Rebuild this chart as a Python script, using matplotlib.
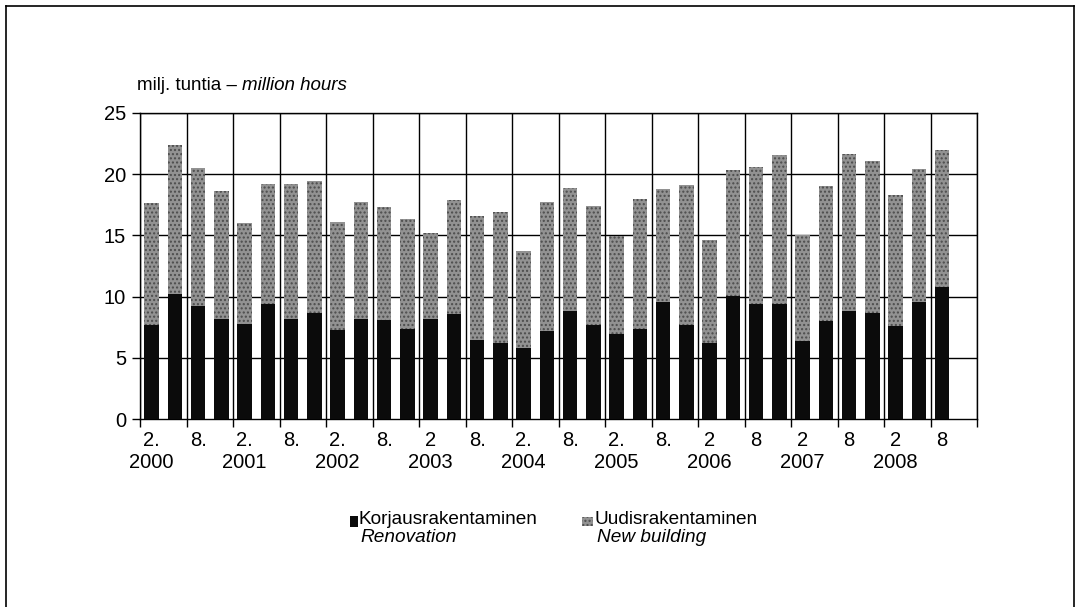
import matplotlib
matplotlib.use("Agg")
import matplotlib.pyplot as plt
from matplotlib.lines import Line2D
from matplotlib.patches import Rectangle
import numpy as np

plt.rcParams['font.family'] = ['Liberation Sans', 'DejaVu Sans']
plt.rcParams['hatch.linewidth'] = 1.0

renovation = [7.7, 10.2, 9.2, 8.15, 7.8, 9.4, 8.2, 8.7, 7.3, 8.15, 8.1, 7.4,
              8.2, 8.55, 6.5, 6.25, 5.8, 7.2, 8.8, 7.7, 6.95, 7.4, 9.6, 7.7,
              6.25, 10.05, 9.4, 9.4, 6.4, 8.05, 8.85, 8.7, 7.6, 9.55, 10.75]
totals = [17.6, 22.4, 20.5, 18.6, 16.0, 19.2, 19.2, 19.45, 16.1, 17.75, 17.3, 16.3,
          15.2, 17.9, 16.6, 16.9, 13.7, 17.75, 18.9, 17.4, 14.95, 18.0, 18.8, 19.1,
          14.6, 20.3, 20.6, 21.55, 15.0, 19.0, 21.6, 21.1, 18.25, 20.4, 21.95]
new_building = [round(t - r, 2) for t, r in zip(totals, renovation)]

month_labels = ["2.", "8.", "2.", "8.", "2.", "8.", "2", "8.", "2.", "8.", "2.", "8.",
                "2", "8", "2", "8", "2", "8"]
years = ["2000", "2001", "2002", "2003", "2004", "2005", "2006", "2007", "2008"]
yticks = [0, 5, 10, 15, 20, 25]

W, H = 1077, 607
fig = plt.figure(figsize=(W / 100, H / 100), dpi=100)
ax = fig.add_axes([140 / W, 1 - 419.3 / H, (977 - 140) / W, (419.3 - 112.7) / H])

x = np.arange(len(renovation))
black = '#0b0b0b'
gray = '#929292'
hatch_col = '#4c4c4c'
ax.bar(x, renovation, width=0.63, color=black, zorder=3)
ax.bar(x, new_building, bottom=renovation, width=0.63, facecolor=gray,
       edgecolor=hatch_col, linewidth=0, hatch='....', zorder=3)

ax.set_xlim(-0.5, 35.5)
ax.set_ylim(0, 25)

# gridlines
for k in range(19):
    ax.axvline(-0.5 + 2 * k, color='black', lw=1.0, zorder=1)
for yv in yticks[1:]:
    ax.axhline(yv, color='black', lw=1.0, zorder=1)

for s in ax.spines.values():
    s.set_color('black')
    s.set_linewidth(1.0)

ax.set_yticks(yticks)
ax.set_yticklabels([str(v) for v in yticks], fontsize=14.5)
ax.set_xticks([-0.5 + 2 * k for k in range(19)])
ax.set_xticklabels([])
ax.tick_params(axis='both', length=6, width=1, color='black', direction='out')
ax.tick_params(axis='y', pad=4)

# x category labels
label_pos = [2 * k for k in range(len(month_labels))]
for p, lab in zip(label_pos, month_labels):
    ax.text(p, -1.7, lab, ha='center', va='center', fontsize=14.5, clip_on=False)
for k, yr in enumerate(years):
    ax.text(4 * k, -3.5, yr, ha='center', va='center', fontsize=14.5, clip_on=False)

# title
t1 = fig.text(137 / W, 1 - 86 / H, "milj. tuntia \u2013 ", fontsize=13.5, ha='left', va='center')
fig.canvas.draw()
bb = t1.get_window_extent()
fig.text(bb.x1 / W, 1 - 86 / H, "million hours", fontsize=13.5, ha='left', va='center', style='italic')

# legend
fig.patches.append(Rectangle((350 / W, 1 - 527 / H), 8 / W, 11 / H, transform=fig.transFigure,
                             facecolor=black, edgecolor='none'))
fig.text(358 / W, 1 - 520 / H, "Korjausrakentaminen", fontsize=13.7, ha='left', va='center')
fig.text(360 / W, 1 - 538 / H, "Renovation", fontsize=13.7, ha='left', va='center', style='italic')
fig.patches.append(Rectangle((582 / W, 1 - 526 / H), 11 / W, 9 / H, transform=fig.transFigure,
                             facecolor=gray, edgecolor=hatch_col, linewidth=0, hatch='....'))
fig.text(595 / W, 1 - 520 / H, "Uudisrakentaminen", fontsize=13.7, ha='left', va='center')
fig.text(597 / W, 1 - 538 / H, "New building", fontsize=13.7, ha='left', va='center', style='italic')

# outer frame (left, top, right)
fr = dict(transform=fig.transFigure, color='black', lw=1.2)
fig.lines.append(Line2D([6 / W, 6 / W], [0, 1 - 6 / H], **fr))
fig.lines.append(Line2D([6 / W, 1074 / W], [1 - 6 / H, 1 - 6 / H], **fr))
fig.lines.append(Line2D([1074 / W, 1074 / W], [0, 1 - 6 / H], **fr))

fig.savefig("out.png", dpi=100)
